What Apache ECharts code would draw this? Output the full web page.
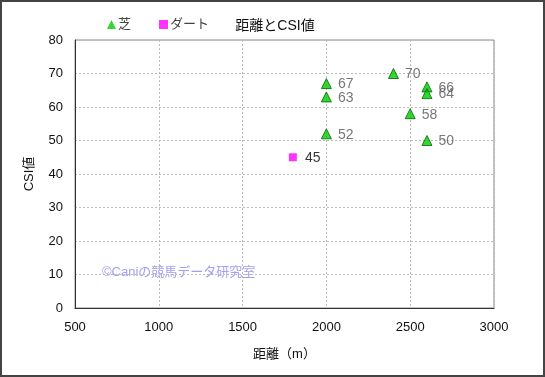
<!DOCTYPE html>
<html>
<head>
<meta charset="utf-8">
<script src="https://cdn.jsdelivr.net/npm/echarts@6/dist/echarts.min.js"></script>
<style>
html, body { margin: 0; padding: 0; background: #fff; }
#chart { width: 545px; height: 377px; box-sizing: border-box; border: 2px solid #444; }
</style>
</head>
<body>
<div id="chart"></div>
<script>
// 芝
var turfDist = [2000, 2000, 2000, 2400, 2600, 2600, 2500, 2600];
var turfCsi = [67, 63, 52, 70, 66, 64, 58, 50];
// ダート
var dirtDist = [1800];
var dirtCsi = [45];

var xTicks = [500, 3000, 500];   // min, max, interval
var yTicks = [0, 80, 10];

function toPoints(xs, ys) {
    var out = [];
    xs.forEach(function (x, i) {
        out.push([x, ys[i]]);
    });
    return out;
}

var font = '"Liberation Sans", "Noto Sans CJK JP", sans-serif';
var myChart = echarts.init(document.getElementById('chart'));

var option = {
    animation: false,
    textStyle: { fontFamily: font },
    title: {
        text: '距離とCSI値',
        left: 268,
        top: 12,
        textAlign: 'center',
        textStyle: { fontSize: 14, fontWeight: 'normal', color: '#111', fontFamily: font }
    },
    legend: {
        left: 100,
        top: 11,
        itemWidth: 9,
        itemHeight: 9,
        itemGap: 28,
        textStyle: { fontSize: 13, color: '#444', fontFamily: font, padding: [0, 0, 0, -3] },
        data: [
            { name: '芝', icon: 'triangle', itemStyle: { color: '#00cc00', borderWidth: 0 } },
            { name: 'ダート', icon: 'rect' }
        ]
    },
    grid: {
        left: 73,
        top: 38,
        width: 419,
        height: 268,
        show: true,
        borderColor: '#888',
        borderWidth: 1
    },
    xAxis: {
        type: 'value',
        min: xTicks[0],
        max: xTicks[1],
        interval: xTicks[2],
        name: '距離（m）',
        nameLocation: 'middle',
        nameGap: 40,
        nameTextStyle: { fontSize: 13, color: '#111', fontFamily: font },
        axisLine: { show: true, lineStyle: { color: '#333' } },
        axisTick: { show: false },
        axisLabel: { fontSize: 13, color: '#111', margin: 13, formatter: function (v) { return String(v); } },
        splitLine: { lineStyle: { color: '#bbb', type: [2, 2] } }
    },
    yAxis: {
        type: 'value',
        min: yTicks[0],
        max: yTicks[1],
        interval: yTicks[2],
        name: 'CSI値',
        nameLocation: 'middle',
        nameGap: 39,
        nameTextStyle: { fontSize: 13, color: '#111', fontFamily: font },
        axisLine: { show: true, lineStyle: { color: '#333' } },
        axisTick: { show: false },
        axisLabel: { fontSize: 13, color: '#111', margin: 12 },
        splitLine: { lineStyle: { color: '#bbb', type: [2, 2] } }
    },
    graphic: [{
        type: 'text',
        left: 100,
        top: 264,
        style: {
            text: '©Caniの競馬データ研究室',
            fill: '#a0a0f4',
            font: '13px ' + font
        }
    }],
    series: [
        {
            name: '芝',
            type: 'scatter',
            symbol: 'triangle',
            symbolSize: 10,
            itemStyle: { color: '#00cc00', borderColor: '#006600', borderWidth: 1 },
            label: {
                show: true,
                position: 'right',
                distance: 6,
                offset: [0, 1],
                fontSize: 14,
                color: '#555',
                formatter: function (p) { return p.value[1]; }
            },
            data: toPoints(turfDist, turfCsi)
        },
        {
            name: 'ダート',
            type: 'scatter',
            symbol: 'rect',
            symbolSize: 8,
            itemStyle: { color: '#ff00ff' },
            label: {
                show: true,
                position: 'right',
                distance: 8,
                offset: [0, 1],
                fontSize: 14,
                color: '#000',
                formatter: function (p) { return p.value[1]; }
            },
            data: toPoints(dirtDist, dirtCsi)
        }
    ]
};

myChart.setOption(option);
</script>
</body>
</html>
